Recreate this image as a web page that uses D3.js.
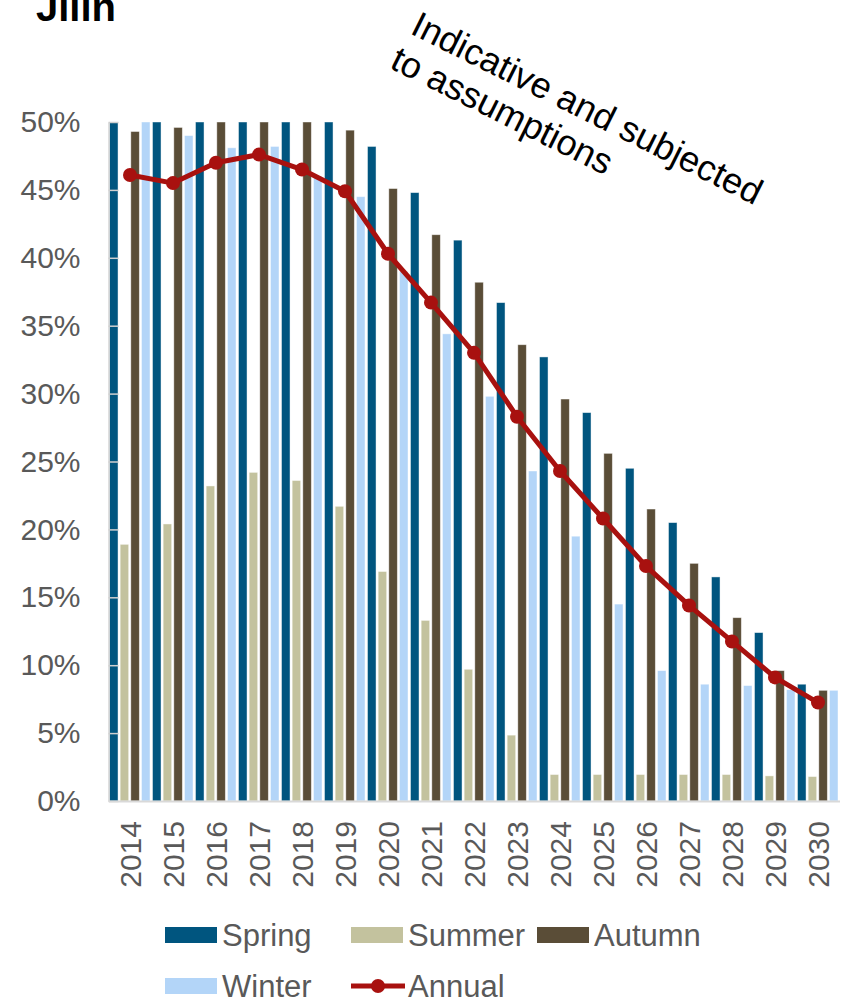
<!DOCTYPE html>
<html>
<head>
<meta charset="utf-8">
<script src="https://cdn.jsdelivr.net/npm/d3@7"></script>
<style>
body { margin: 0; background: #fff; }
text { font-family: "Liberation Sans", Arial, sans-serif; }
</style>
</head>
<body>
<svg></svg>
<script>
const width = 858;
const height = 1002;
const margin = ({top: 122, right: 18.5, bottom: 201, left: 108.5});

const years = ["2014", "2015", "2016", "2017", "2018", "2019", "2020", "2021", "2022",
    "2023", "2024", "2025", "2026", "2027", "2028", "2029", "2030"];
const seasons = ["Spring", "Summer", "Autumn", "Winter"];
const spring = [53, 54, 55, 56, 55, 53, 48.2, 44.8, 41.3, 36.7, 32.7, 28.6, 24.5, 20.5, 16.5, 12.4, 8.6];
const summer = [18.9, 20.4, 23.2, 24.2, 23.6, 21.7, 16.9, 13.3, 9.7, 4.85, 1.95, 1.95, 1.95, 1.95, 1.95, 1.85, 1.8];
const autumn = [49.3, 49.6, 51, 52, 51, 49.4, 45.1, 41.7, 38.2, 33.6, 29.6, 25.6, 21.5, 17.5, 13.5, 9.6, 8.15];
const winter = [51, 49.0, 48.1, 48.2, 46.0, 44.5, 39.0, 34.4, 29.8, 24.3, 19.5, 14.5, 9.6, 8.6, 8.5, 8.2, 8.15];
const annual = [46.1, 45.5, 47.0, 47.6, 46.5, 44.9, 40.3, 36.7, 33.0, 28.3, 24.3, 20.8, 17.3, 14.4, 11.75, 9.1, 7.25];
const yTicks = [0, 5, 10, 15, 20, 25, 30, 35, 40, 45, 50];

const seasonValues = [spring, summer, autumn, winter];
const seasonColors = ["#00557f", "#c3c29e", "#5a4d37", "#b3d5f8"];
const annualColor = "#a8110f";
const textColor = "#595959";

const table = years.map((year, i) => ({
    year,
    values: seasons.map((s, j) => ({season: s, value: seasonValues[j][i]}))
}));

const x0 = d3.scaleBand()
    .domain(years)
    .range([margin.left, width - margin.right]);

const x1 = d3.scaleBand()
    .domain(seasons)
    .range([1, x0.bandwidth() - 1.5])
    .paddingInner(0.2);

const y = d3.scaleLinear()
    .domain([0, 50])
    .range([height - margin.bottom, margin.top])
    .clamp(true);

const color = d3.scaleOrdinal().domain(seasons).range(seasonColors);

const svg = d3.select("svg")
    .attr("width", width)
    .attr("height", height)
    .attr("viewBox", [0, 0, width, height]);

// title
svg.append("text")
    .attr("x", 36)
    .attr("y", 21)
    .attr("font-size", 40)
    .attr("font-weight", "bold")
    .attr("fill", "#000")
    .text("Jilin");

svg.append("g")
    .selectAll("g")
    .data(table)
    .join("g")
    .attr("transform", d => `translate(${x0(d.year)},0)`)
    .selectAll("rect")
    .data(d => d.values)
    .join("rect")
    .attr("x", d => x1(d.season))
    .attr("y", d => y(d.value))
    .attr("width", x1.bandwidth())
    .attr("height", d => y(0) - y(d.value))
    .attr("fill", d => color(d.season))
    .attr("stroke", "#ffffff")
    .attr("stroke-opacity", 0.55)
    .attr("stroke-width", 0.8);

// y labels
svg.append("g")
    .attr("transform", `translate(${margin.left},0)`)
    .call(d3.axisLeft(y).tickValues(yTicks).tickSize(0).tickPadding(28).tickFormat(d => d + "%"))
    .call(g => g.select(".domain").remove())
    .call(g => g.selectAll("text")
        .attr("font-size", 30)
        .attr("font-family", "Liberation Sans, Arial, sans-serif")
        .attr("fill", textColor));

// y axis line with inside ticks
svg.append("g")
    .attr("transform", `translate(${margin.left},0)`)
    .call(d3.axisRight(y).tickValues(yTicks).tickSize(10).tickSizeOuter(0).tickFormat(""))
    .call(g => g.select(".domain").attr("stroke", "#d4d4d4").attr("stroke-width", 1.5))
    .call(g => g.selectAll(".tick line").attr("stroke", "#cfcfcf").attr("stroke-width", 1.5));

// x axis
svg.append("g")
    .attr("transform", `translate(0,${height - margin.bottom})`)
    .call(d3.axisBottom(x0).tickSize(0).tickSizeOuter(0))
    .call(g => g.select(".domain").attr("stroke", "#d9d9d9").attr("stroke-width", 2))
    .call(g => g.selectAll("text")
        .attr("transform", "rotate(-90)")
        .attr("text-anchor", "end")
        .attr("x", -20)
        .attr("y", 0)
        .attr("dy", "0.35em")
        .attr("font-size", 30)
        .attr("font-family", "Liberation Sans, Arial, sans-serif")
        .attr("fill", textColor));

const line = d3.line()
    .x((d, i) => x0(years[i]) + x0.bandwidth() / 2)
    .y(d => y(d));

svg.append("path")
    .datum(annual)
    .attr("fill", "none")
    .attr("stroke", annualColor)
    .attr("stroke-width", 5)
    .attr("stroke-linejoin", "round")
    .attr("d", line);

svg.append("g")
    .attr("fill", annualColor)
    .selectAll("circle")
    .data(annual)
    .join("circle")
    .attr("cx", (d, i) => x0(years[i]) + x0.bandwidth() / 2)
    .attr("cy", d => y(d))
    .attr("r", 7);

// annotation
const note = svg.append("text")
    .attr("transform", "translate(409,33) rotate(26.5)")
    .attr("font-size", 36)
    .attr("fill", "#000");
note.append("tspan").attr("x", 0).attr("y", 0).text("Indicative and subjected");
note.append("tspan").attr("x", -3).attr("y", 40).text("to assumptions");

// legend
const legendItems = seasons.concat(["Annual"]);
const legendPos = [[165, 935], [351, 935], [537, 935], [165, 986], [351, 986]];

const legend = svg.append("g")
    .selectAll("g")
    .data(legendItems)
    .join("g")
    .attr("transform", (d, i) => `translate(${legendPos[i][0]},${legendPos[i][1]})`);

legend.filter(d => d !== "Annual")
    .append("rect")
    .attr("x", 0)
    .attr("y", -8)
    .attr("width", 52)
    .attr("height", 16)
    .attr("fill", d => color(d));

legend.filter(d => d === "Annual")
    .call(g => g.append("line")
        .attr("x1", 0).attr("x2", 54)
        .attr("stroke", annualColor)
        .attr("stroke-width", 5))
    .call(g => g.append("circle")
        .attr("cx", 27)
        .attr("r", 7)
        .attr("fill", annualColor));

legend.append("text")
    .attr("x", 57)
    .attr("dy", "0.36em")
    .attr("font-size", 31)
    .attr("fill", textColor)
    .text(d => d);
</script>
</body>
</html>
